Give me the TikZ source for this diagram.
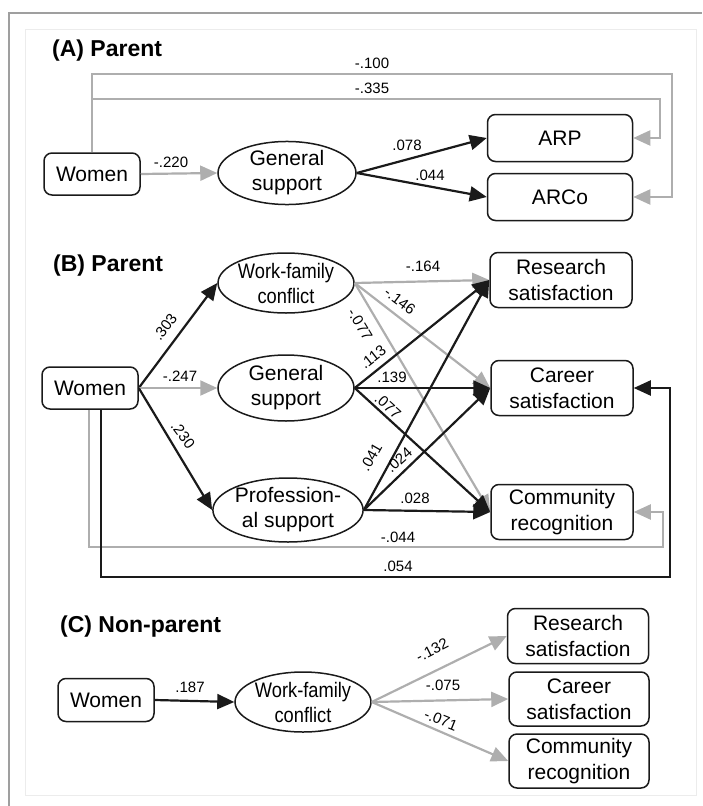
\documentclass[tikz,border=0pt]{standalone}
\usepackage{fontspec}
\usepackage{graphicx}
\setmainfont{Liberation Sans}
\usetikzlibrary{arrows.meta,shapes.geometric}
\definecolor{lg}{HTML}{AEAEAE}
\definecolor{dk}{HTML}{1A1A1A}
\newcommand{\cnd}[1]{\scalebox{0.87}[1]{#1}}
\begin{document}
\begin{tikzpicture}[x=1pt,y=-1pt,
  box/.style={draw=dk, line width=1.5pt, rounded corners=8pt, minimum width=96pt, minimum height=42pt, inner sep=0pt, font=\fontsize{21}{26}\selectfont, align=center},
  obox/.style={box, minimum width=142pt, minimum height=55pt},
  ell/.style={draw=dk, line width=1.5pt, ellipse, inner sep=0pt, minimum width=138pt, minimum height=64pt, font=\fontsize{21}{25}\selectfont, align=center},
  ttl/.style={font=\fontsize{23}{25}\selectfont\bfseries, anchor=west, inner sep=0pt},
  lab/.style={font=\fontsize{15}{17}\selectfont, inner sep=1pt},
  ga/.style={draw=lg, line width=2.2pt, -{Triangle[length=17pt,width=15pt]}},
  ba/.style={draw=dk, line width=2.2pt, -{Triangle[length=17pt,width=15pt]}},
  wftxt/.style={font=\fontsize{19}{23}\selectfont},
]
\useasboundingbox (0,0) rectangle (702,806);
% frames
\draw[draw=gray!75!white, line width=1.5pt] (9,806) -- (9,13) -- (702,13);
\draw[draw=gray!15!white, line width=1pt] (25,29) rectangle (696,795);

% ---------------- (A)
\node[ttl] (ta) at (52,51) {(A) Parent};
\node[box] (wa) at (92,174) {Women};
\node[ell, minimum height=63pt] (ga) at (287,173) {General\\support};
\node[box, minimum width=145pt, minimum height=47pt] (arp) at (560,138) {ARP};
\node[box, minimum width=145pt, minimum height=47pt] (arco) at (560,197) {ARCo};
\coordinate (a1) at (672,74);
\coordinate (a2) at (660,99);
\draw[ga] (wa.north) |- (a1) |- (arco.east);
\draw[ga] (wa.north) |- (a2) |- (arp.east);
\draw[ga] (wa.east) -- (ga.west);
\draw[ba] (ga.east) -- (arp.west);
\draw[ba] (ga.east) -- (arco.west);
\node[lab] (la1) at (372,63) {-.100};
\node[lab] (la2) at (372,88) {-.335};
\node[lab] (la3) at (171,162) {-.220};
\node[lab] (la4) at (407,145) {.078};
\node[lab] (la5) at (430,175) {.044};

% ---------------- (B)
\node[ttl] (tb) at (53,266) {(B) Parent};
\node[box] (wb) at (90,388) {Women};
\node[ell, minimum width=136pt, minimum height=60pt] (wf) at (286,283) {\cnd{Work-family}\\\cnd{conflict}};
\node[ell, minimum width=136pt, minimum height=66pt] (gs) at (286,388) {General\\support};
\node[ell, minimum width=140pt, minimum height=64pt] (ps) at (288,510) {Profession-\\al support};
\node[obox] (rs) at (561,280) {Research\\satisfaction};
\node[obox] (cs) at (562,388) {Career\\satisfaction};
\node[obox] (cr) at (562,512) {Community\\recognition};
\draw[ba] (wb.east) -- (wf.west);
\draw[ga] (wb.east) -- (gs.west);
\draw[ba] (wb.east) -- (ps.west);
\draw[ga] (wf.east) -- (rs.west);
\draw[ga] (wf.east) -- (cs.west);
\draw[ga] (wf.east) -- (cr.west);
\draw[ba] (gs.east) -- (rs.west);
\draw[ba] (gs.east) -- (cs.west);
\draw[ba] (gs.east) -- (cr.west);
\draw[ba] (ps.east) -- (rs.west);
\draw[ba] (ps.east) -- (cs.west);
\draw[ba] (ps.east) -- (cr.west);
\coordinate (b1) at (663,547);
\coordinate (b2) at (670,577);
\draw[ga] ([xshift=-1pt]wb.south) |- (b1) |- (cr.east);
\draw[ba] ([xshift=11pt]wb.south) |- (b2) |- (cs.east);
\node[lab, rotate=53] (lb1) at (165,327) {.303};
\node[lab] (lb2) at (180,376) {-.247};
\node[lab, rotate=-53] (lb3) at (183,435) {.230};
\node[lab] (lb4) at (423,266) {-.164};
\node[lab, rotate=-37] (lb5) at (400,301) {-.146};
\node[lab, rotate=-59] (lb6) at (360,324) {-.077};
\node[lab, rotate=38] (lb7) at (373,357) {.113};
\node[lab] (lb8) at (392,377) {.139};
\node[lab, rotate=-42] (lb9) at (388,406) {.077};
\node[lab, rotate=60] (lb10) at (371,457) {.041};
\node[lab, rotate=42] (lb11) at (399,460) {.024};
\node[lab] (lb12) at (415,498) {.028};
\node[lab] (lb13) at (398,537) {-.044};
\node[lab] (lb14) at (398,566) {.054};

% ---------------- (C)
\node[ttl] (tc) at (60,627) {(C) Non-parent};
\node[box, minimum height=43pt] (wc) at (106,700) {Women};
\node[ell, minimum width=136pt, minimum height=60pt] (wfc) at (303,702) {\cnd{Work-family}\\\cnd{conflict}};
\node[obox, minimum width=141pt] (rc) at (578,636) {Research\\satisfaction};
\node[obox, minimum width=140pt, minimum height=54pt] (cc) at (579,699) {Career\\satisfaction};
\node[obox, minimum width=140pt, minimum height=54pt] (mc) at (579,761) {Community\\recognition};
\draw[ba] (wc.east) -- (wfc.west);
\draw[ga] (wfc.east) -- (rc.west);
\draw[ga] (wfc.east) -- (cc.west);
\draw[ga] (wfc.east) -- (mc.west);
\node[lab] (lc1) at (190,687) {.187};
\node[lab, rotate=27] (lc2) at (432,650) {-.132};
\node[lab] (lc3) at (443,685) {-.075};
\node[lab, rotate=-22] (lc4) at (441,720) {-.071};
\end{tikzpicture}
\end{document}
